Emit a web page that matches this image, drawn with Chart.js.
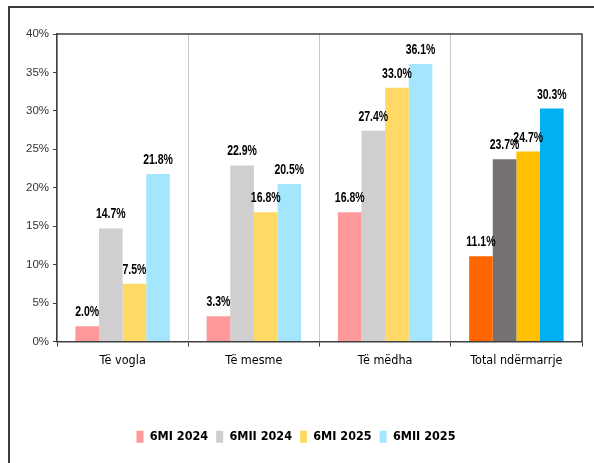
<!DOCTYPE html>
<html>
<head>
<meta charset="utf-8">
<script src="https://cdn.jsdelivr.net/npm/chart.js@4.4.1/dist/chart.umd.min.js"></script>
<style>
    html, body { margin: 0; padding: 0; background: #fff; }
    #wrap { position: relative; width: 594px; height: 463px; }
    #frame {
        position: absolute; left: 8px; top: 6px; right: 0; bottom: 0;
        border-top: 2px solid #3c3c3c; border-left: 2px solid #3c3c3c;
        pointer-events: none;
    }
    canvas { position: absolute; left: 0; top: 0; }
</style>
</head>
<body>
<div id="wrap">
    <canvas id="chart" width="594" height="463"></canvas>
    <div id="frame"></div>
</div>
<script>
// categories and series
const categories = ['Të vogla', 'Të mesme', 'Të mëdha', 'Total ndërmarrje'];
const seriesNames = ['6MI 2024', '6MII 2024', '6MI 2025', '6MII 2025'];
const h1_2024 = [2.0, 3.3, 16.8, 11.1];
const h2_2024 = [14.7, 22.9, 27.4, 23.7];
const h1_2025 = [7.5, 16.8, 33.0, 24.7];
const h2_2025 = [21.8, 20.5, 36.1, 30.3];
const yTicks = [0, 5, 10, 15, 20, 25, 30, 35, 40];

// light colours for size groups, strong colours for the total
const lightColors = ['#FF9999', '#D0CECE', '#FFD966', '#A4E6FD'];
const darkColors = ['#FF6600', '#767171', '#FFC000', '#00B0F0'];

const condensed = '"DejaVu Sans Condensed", "DejaVu Sans", sans-serif';

function colorsFor(i) {
    return categories.map((c, k) => k === categories.length - 1 ? darkColors[i] : lightColors[i]);
}

// value labels above bars, squeezed horizontally to get the narrow look
const valueLabels = {
    id: 'valueLabels',
    afterDatasetsDraw(chart) {
        const ctx = chart.ctx;
        ctx.save();
        ctx.font = 'bold 14px "Liberation Sans", sans-serif';
        ctx.fillStyle = '#000';
        ctx.textAlign = 'center';
        ctx.textBaseline = 'alphabetic';
        chart.data.datasets.forEach((ds, i) => {
            chart.getDatasetMeta(i).data.forEach((bar, j) => {
                ctx.save();
                ctx.translate(bar.x, bar.y - 10);
                ctx.scale(0.75, 1);
                ctx.fillText(ds.data[j].toFixed(1) + '%', 0, 0);
                ctx.restore();
            });
        });
        ctx.restore();
    }
};

const plotBox = {
    id: 'plotBox',
    afterDraw(chart) {
        const a = chart.chartArea;
        const ctx = chart.ctx;
        ctx.save();
        ctx.strokeStyle = '#404040';
        ctx.lineWidth = 1.5;
        ctx.beginPath();
        ctx.moveTo(a.left, a.top);
        ctx.lineTo(a.right, a.top);
        ctx.lineTo(a.right, a.bottom);
        ctx.stroke();
        ctx.restore();
    }
};

const datasets = [h1_2024, h2_2024, h1_2025, h2_2025].map((vals, i) => ({
    label: seriesNames[i],
    data: vals,
    backgroundColor: colorsFor(i),
    borderWidth: 0
}));

new Chart(document.getElementById('chart'), {
    type: 'bar',
    data: { labels: categories, datasets: datasets },
    options: {
        responsive: false,
        animation: false,
        layout: { padding: { left: 10, right: 12, top: 34, bottom: 10 } },
        datasets: { bar: { barPercentage: 1.0, categoryPercentage: 0.72 } },
        plugins: {
            tooltip: { enabled: false },
            legend: {
                position: 'bottom',
                labels: {
                    color: '#000',
                    font: { family: condensed, size: 12.5, weight: 'bold' },
                    boxWidth: 7,
                    boxHeight: 12,
                    padding: 8
                }
            }
        },
        scales: {
            x: {
                afterFit: (scale) => { scale.height = 81; },
                grid: {
                    offset: true,
                    color: '#C8C8C8',
                    tickColor: '#404040',
                    tickLength: 5
                },
                border: { color: '#404040', width: 1.5 },
                ticks: {
                    color: '#000',
                    font: { family: condensed, size: 12.5 },
                    padding: 7
                }
            },
            y: {
                min: 0,
                max: 40,
                afterFit: (scale) => { scale.width = 47; },
                afterBuildTicks: (scale) => { scale.ticks = yTicks.map(v => ({ value: v })); },
                grid: {
                    drawOnChartArea: false,
                    tickColor: '#404040',
                    tickLength: 4
                },
                border: { color: '#404040', width: 1.5 },
                ticks: {
                    color: '#333',
                    font: { family: '"Liberation Sans", sans-serif', size: 11.5 },
                    padding: 4,
                    callback: (v) => v + '%'
                }
            }
        }
    },
    plugins: [valueLabels, plotBox]
});
</script>
</body>
</html>
